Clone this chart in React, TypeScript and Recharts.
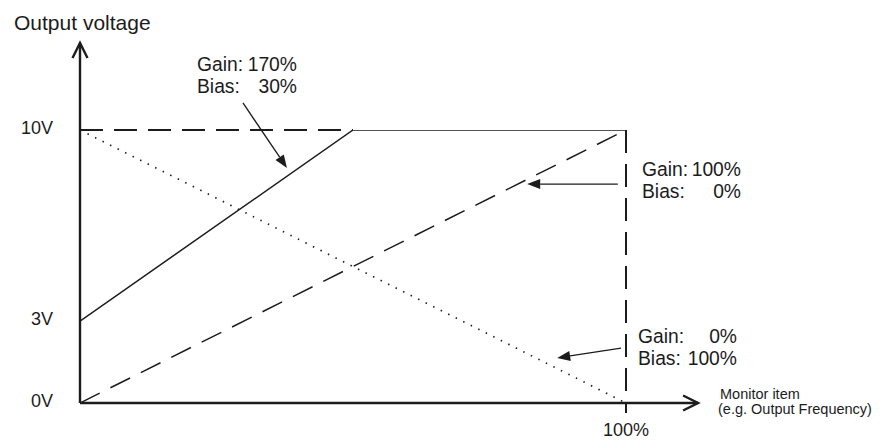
import { LineChart, Line, XAxis, YAxis, ReferenceLine } from "recharts"

const FONT = '"Liberation Sans", Arial, Helvetica, sans-serif'
const INK = "#1c1c1c"

// x: monitor item in %, y: output voltage in V
const gain170X = [0, 50, 100]
const gain170V = [3, 10, 10]
const straightX = [0, 100]
const gain100V = [0, 10]
const gain0V = [10, 0]

const voltTicks = [0, 3, 10]
const pctTicks = [100]

const gain170 = gain170X.map((x, i) => ({ x, v: gain170V[i] }))
const gain100 = straightX.map((x, i) => ({ x, v: gain100V[i] }))
const gain0 = straightX.map((x, i) => ({ x, v: gain0V[i] }))

const noteGain = ["170%", "100%", "0%"]
const noteBias = ["30%", "0%", "100%"]

function arrowShape(filled: boolean, len: number, half: number, width: number) {
  return (props: any) => {
    const { x1, y1, x2, y2 } = props
    const a = Math.atan2(y2 - y1, x2 - x1)
    const bx = x2 - len * Math.cos(a)
    const by = y2 - len * Math.sin(a)
    const px = -Math.sin(a) * half
    const py = Math.cos(a) * half
    const head = `${bx + px},${by + py} ${x2},${y2} ${bx - px},${by - py}`
    return (
      <g>
        <line x1={x1} y1={y1} x2={filled ? bx : x2} y2={filled ? by : y2} stroke={INK} strokeWidth={width} />
        {filled ? (
          <polygon points={head} fill={INK} />
        ) : (
          <polyline points={head} fill="none" stroke={INK} strokeWidth={width} />
        )}
      </g>
    )
  }
}

const axisArrow = arrowShape(false, 15, 7.5, 2.4)
const noteArrow = arrowShape(true, 13, 5, 1.3)

const VoltTick = (props: any) => (
  <text x={props.x - 25} y={props.y + 4} textAnchor="end" fontSize={18} fontFamily={FONT} fill={INK}>
    {props.payload.value}V
  </text>
)

const PctTick = (props: any) => (
  <text x={props.x} y={props.y + 33} textAnchor="middle" fontSize={18} fontFamily={FONT} fill={INK}>
    {props.payload.value}%
  </text>
)

function Note({ x, y, end, gain, bias }: { x: number; y: number; end: number; gain: string; bias: string }) {
  return (
    <g fontSize={19.3} fontFamily={FONT} fill={INK}>
      <text x={x} y={y}>Gain:</text>
      <text x={end} y={y} textAnchor="end">{gain}</text>
      <text x={x} y={y + 22}>Bias:</text>
      <text x={end} y={y + 22} textAnchor="end">{bias}</text>
    </g>
  )
}

export default function App() {
  return (
    <div style={{ position: "fixed", left: 0, top: 0, width: 892, height: 442, background: "#fff", overflow: "visible" }}>
      <LineChart width={892} height={442} margin={{ top: 130, right: 266, bottom: 0, left: 0 }} style={{ overflow: "visible" }}>
        <XAxis
          type="number"
          dataKey="x"
          domain={[0, 100]}
          allowDataOverflow
          ticks={pctTicks}
          height={39}
          axisLine={false}
          tickLine={false}
          tickSize={0}
          tickMargin={0}
          tick={<PctTick />}
        />
        <YAxis
          type="number"
          domain={[0, 10]}
          allowDataOverflow
          ticks={voltTicks}
          width={80}
          axisLine={false}
          tickLine={false}
          tickSize={0}
          tick={<VoltTick />}
        />
        {/* frame: 10V ceiling up to the saturation point, 100% marker */}
        <ReferenceLine
          segment={[{ x: 0, y: 10 }, { x: gain170X[1], y: 10 }]}
          stroke={INK}
          strokeWidth={2}
          strokeDasharray="23 11"
          ifOverflow="visible"
        />
        <ReferenceLine
          segment={[{ x: 100, y: 10 }, { x: 100, y: -0.37 }]}
          stroke={INK}
          strokeWidth={2}
          strokeDasharray="23 11"
          ifOverflow="visible"
        />
        <Line data={gain170} dataKey="v" stroke={INK} strokeWidth={1.5} dot={false} activeDot={false} isAnimationActive={false} />
        <Line data={gain100} dataKey="v" stroke={INK} strokeWidth={1.5} strokeDasharray="22 12" dot={false} activeDot={false} isAnimationActive={false} />
        <Line data={gain0} dataKey="v" stroke="#222" strokeWidth={1.7} strokeDasharray="1.5 6.9" dot={false} activeDot={false} isAnimationActive={false} />
        {/* axes with arrow heads */}
        <ReferenceLine segment={[{ x: 0, y: 0 }, { x: 0, y: 13.19 }]} ifOverflow="visible" shape={axisArrow} />
        <ReferenceLine segment={[{ x: 0, y: 0 }, { x: 113.2, y: 0 }]} ifOverflow="visible" shape={axisArrow} />
        {/* callout arrows */}
        <ReferenceLine segment={[{ x: 29.85, y: 10.99 }, { x: 37.9, y: 8.61 }]} ifOverflow="visible" shape={noteArrow} />
        <ReferenceLine segment={[{ x: 98.5, y: 8.02 }, { x: 81.9, y: 8.02 }]} ifOverflow="visible" shape={noteArrow} />
        <ReferenceLine segment={[{ x: 99.1, y: 2.01 }, { x: 87.4, y: 1.65 }]} ifOverflow="visible" shape={noteArrow} />
      </LineChart>
      <svg width={892} height={442} style={{ position: "absolute", left: 0, top: 0, pointerEvents: "none" }}>
        <text x={14} y={30} fontSize={21} fontFamily={FONT} fill={INK}>Output voltage</text>
        <Note x={197} y={71} end={297} gain={noteGain[0]} bias={noteBias[0]} />
        <Note x={642} y={176} end={741} gain={noteGain[1]} bias={noteBias[1]} />
        <Note x={638} y={343} end={737} gain={noteGain[2]} bias={noteBias[2]} />
        <g fontSize={14.5} fontFamily={FONT} fill={INK}>
          <text x={720} y={398.5}>Monitor item</text>
          <text x={718} y={414}>(e.g. Output Frequency)</text>
        </g>
      </svg>
    </div>
  )
}
